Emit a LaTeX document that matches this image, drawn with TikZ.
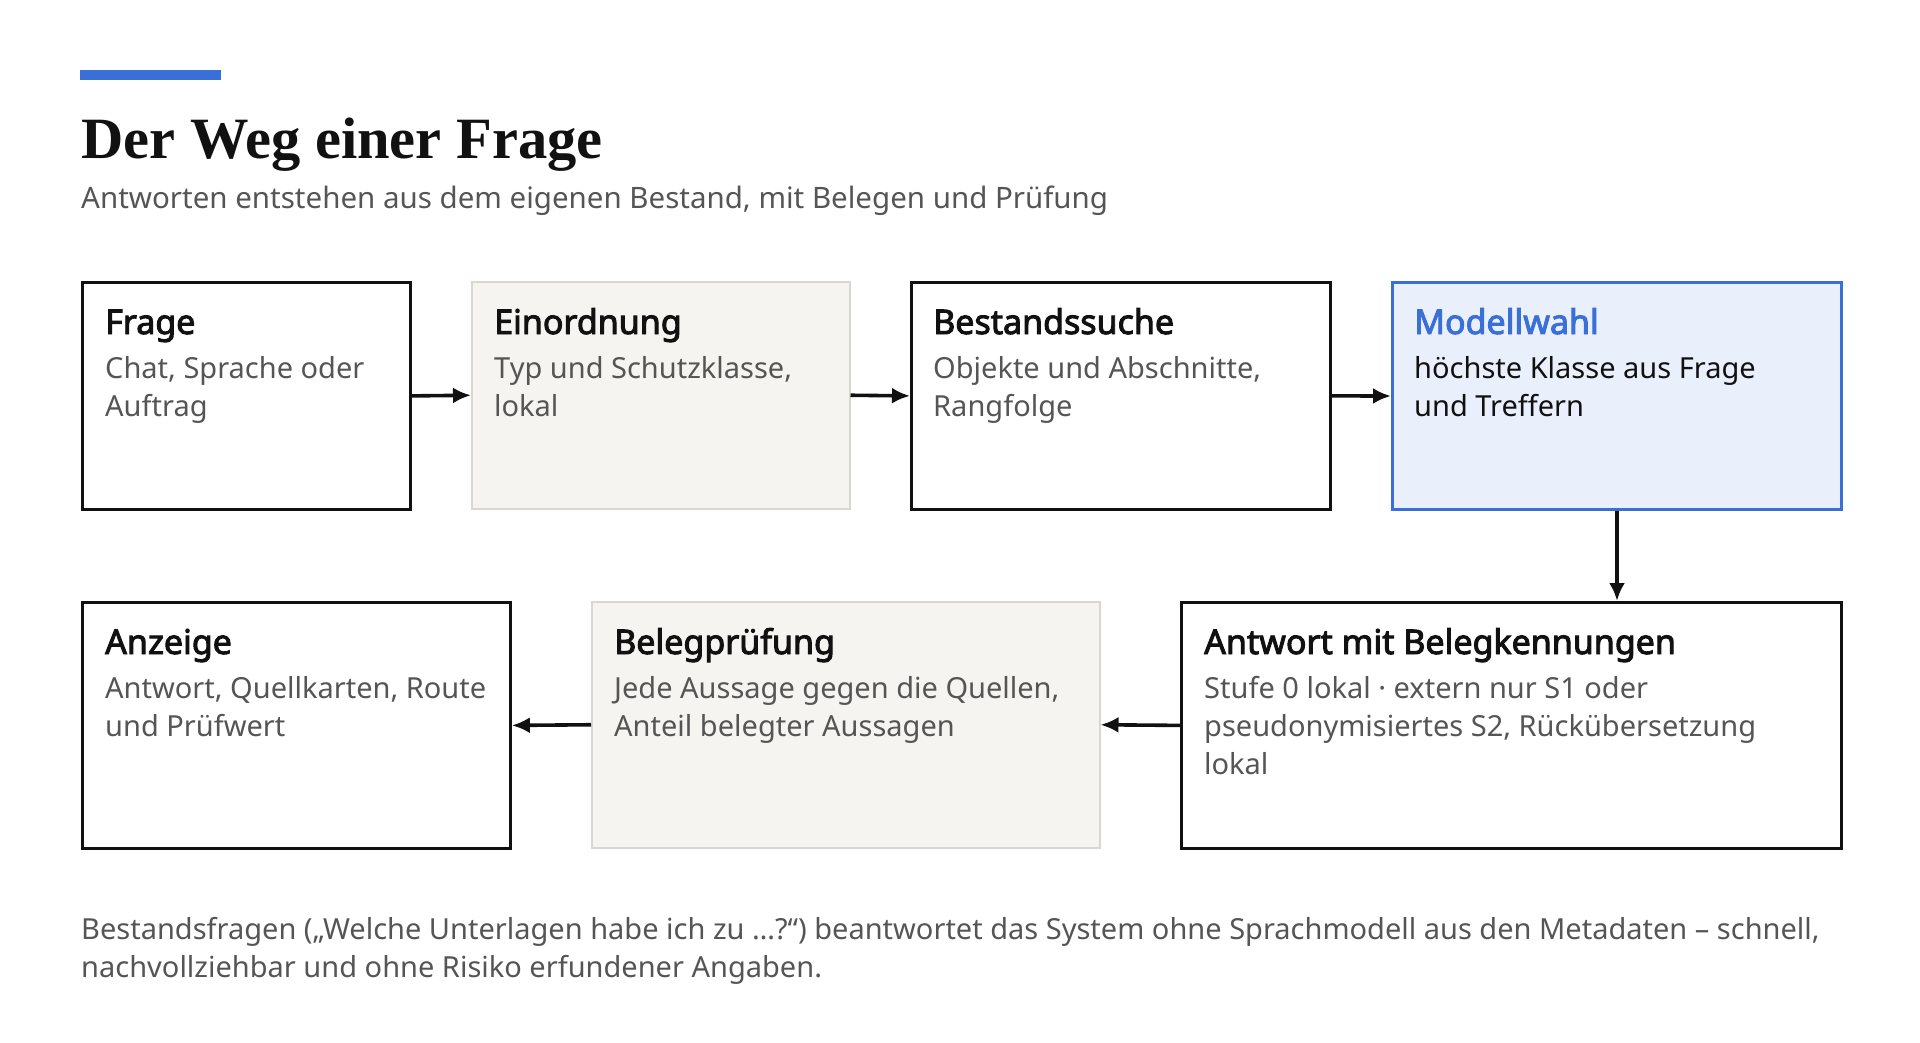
\documentclass[tikz,border=0pt]{standalone}
\usepackage{fontspec}
\setmainfont{Noto Sans}
\newfontfamily\headfont{Noto Sans}[FakeBold=2.8]
\newfontfamily\titlefont{Liberation Serif}
\usetikzlibrary{arrows.meta,calc}
\definecolor{accent}{HTML}{3A6FD8}
\definecolor{accentfill}{HTML}{EAF0FB}
\definecolor{beige}{HTML}{F5F4F0}
\definecolor{beigeline}{HTML}{D9D7D0}
\definecolor{mutedtext}{HTML}{555555}
\definecolor{ink}{HTML}{111111}
\tikzset{
  plainbox/.style={draw=ink, line width=2.8pt, fill=white, inner sep=0pt},
  beigebox/.style={draw=beigeline, line width=1.5pt, fill=beige, inner sep=0pt},
  bluebox/.style={draw=accent, line width=3pt, fill=accentfill, inner sep=0pt},
  headtxt/.style={anchor=base west, inner sep=0pt, font=\headfont\fontsize{34}{38}\selectfont, text=ink},
  bodytxt/.style={anchor=base west, inner sep=0pt, font=\fontsize{29}{38}\selectfont, text=mutedtext},
  flow/.style={line width=3.6pt, draw=ink, -{Latex[length=18pt,width=16pt]}},
}
\newcommand{\mkbox}[6]{% name, style, x1, y1, x2, y2
  \node[#2, minimum width=#5-#3, minimum height=#6-#4, anchor=north west] (#1) at (#3,-#4) {};}
\begin{document}
\begin{tikzpicture}[x=1pt,y=1pt]
\useasboundingbox (0,0) rectangle (1920,-1043);
% header
\fill[accent] (80,-70) rectangle (221,-80);
\node[anchor=base west, inner sep=0pt, font=\titlefont\fontsize{58.5}{62}\selectfont\bfseries, text=ink] (title) at (81,-159) {Der Weg einer Frage};
\node[anchor=base west, inner sep=0pt, font=\fontsize{29.5}{38}\selectfont, text=mutedtext] (subtitle) at (81,-208.5) {Antworten entstehen aus dem eigenen Bestand, mit Belegen und Prüfung};
% boxes row 1
\mkbox{frage}{plainbox}{81}{281}{409}{508}
\mkbox{einord}{beigebox}{471}{281}{849}{508}
\mkbox{bestand}{plainbox}{910}{281}{1329}{508}
\mkbox{modell}{bluebox}{1391}{281}{1840}{508}
% boxes row 2
\mkbox{anzeige}{plainbox}{81}{601}{509}{847}
\mkbox{beleg}{beigebox}{591}{601}{1099}{847}
\mkbox{antwort}{plainbox}{1180}{601}{1840}{847}
% texts
\node[headtxt] (frage-h) at ($(frage.north west)+(24,-53)$) {Frage};
\node[bodytxt] (frage-b1) at ($(frage.north west)+(24,-97.5)$) {Chat, Sprache oder};
\node[bodytxt] (frage-b2) at ($(frage.north west)+(24,-135.5)$) {Auftrag};
\node[headtxt] (einord-h) at ($(einord.north west)+(23,-53)$) {Einordnung};
\node[bodytxt] (einord-b1) at ($(einord.north west)+(23,-97.5)$) {Typ und Schutzklasse,};
\node[bodytxt] (einord-b2) at ($(einord.north west)+(23,-135.5)$) {lokal};
\node[headtxt] (bestand-h) at ($(bestand.north west)+(23,-53)$) {Bestandssuche};
\node[bodytxt] (bestand-b1) at ($(bestand.north west)+(23,-97.5)$) {Objekte und Abschnitte,};
\node[bodytxt] (bestand-b2) at ($(bestand.north west)+(23,-135.5)$) {Rangfolge};
\node[headtxt, text=accent] (modell-h) at ($(modell.north west)+(23,-53)$) {Modellwahl};
\node[bodytxt, text=ink] (modell-b1) at ($(modell.north west)+(23,-97.5)$) {höchste Klasse aus Frage};
\node[bodytxt, text=ink] (modell-b2) at ($(modell.north west)+(23,-135.5)$) {und Treffern};
\node[headtxt] (anzeige-h) at ($(anzeige.north west)+(24,-53)$) {Anzeige};
\node[bodytxt] (anzeige-b1) at ($(anzeige.north west)+(24,-97.5)$) {Antwort, Quellkarten, Route};
\node[bodytxt] (anzeige-b2) at ($(anzeige.north west)+(24,-135.5)$) {und Prüfwert};
\node[headtxt] (beleg-h) at ($(beleg.north west)+(23,-53)$) {Belegprüfung};
\node[bodytxt] (beleg-b1) at ($(beleg.north west)+(23,-97.5)$) {Jede Aussage gegen die Quellen,};
\node[bodytxt] (beleg-b2) at ($(beleg.north west)+(23,-135.5)$) {Anteil belegter Aussagen};
\node[headtxt] (antwort-h) at ($(antwort.north west)+(24,-53)$) {Antwort mit Belegkennungen};
\node[bodytxt] (antwort-b1) at ($(antwort.north west)+(24,-97.5)$) {Stufe 0 lokal · extern nur S1 oder};
\node[bodytxt] (antwort-b2) at ($(antwort.north west)+(24,-135.5)$) {pseudonymisiertes S2, Rückübersetzung};
\node[bodytxt] (antwort-b3) at ($(antwort.north west)+(24,-173.5)$) {lokal};
% connectors
\draw[flow] (frage.east) -- (einord.west);
\draw[flow] (einord.east) -- (bestand.west);
\draw[flow] (bestand.east) -- (modell.west);
\draw[flow] (modell.south) -- (modell.south |- antwort.north);
\draw[flow] (antwort.west) -- (beleg.east);
\draw[flow] (beleg.west) -- (anzeige.east);
% footer
\node[bodytxt] (foot1) at (81,-939) {Bestandsfragen („Welche Unterlagen habe ich zu …?“) beantwortet das System ohne Sprachmodell aus den Metadaten – schnell,};
\node[bodytxt] (foot2) at (81,-977) {nachvollziehbar und ohne Risiko erfundener Angaben.};
\end{tikzpicture}
\end{document}
